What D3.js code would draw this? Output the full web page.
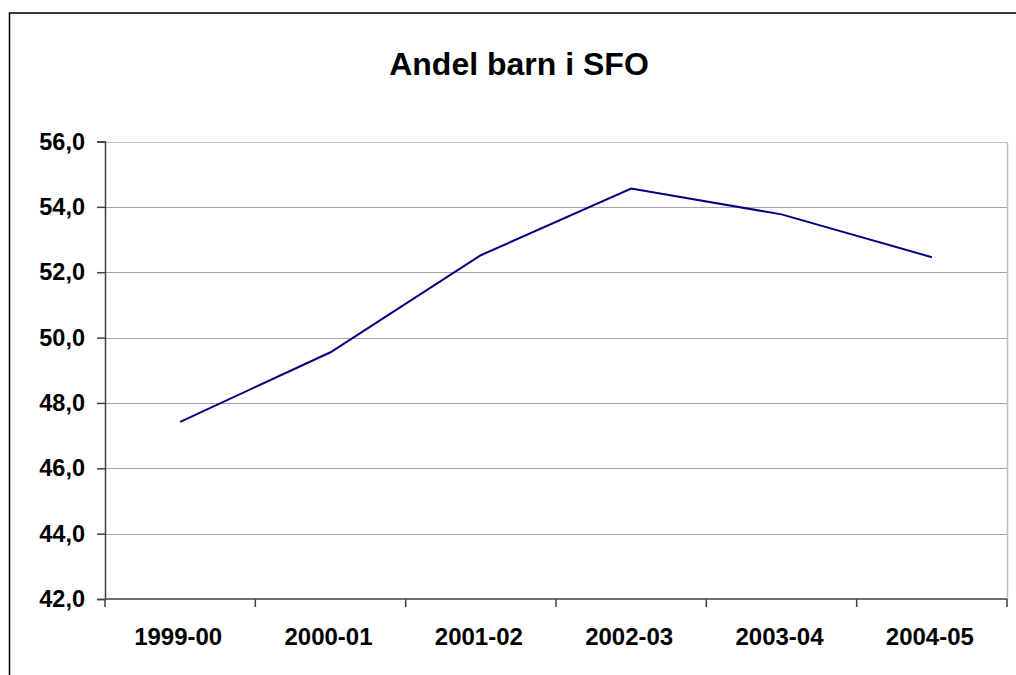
<!DOCTYPE html>
<html>
<head>
<meta charset="utf-8">
<script src="https://cdn.jsdelivr.net/npm/d3@7"></script>
<style>
  html, body { margin: 0; padding: 0; background: #fff; }
  svg { display: block; }
  text { font-family: "Liberation Sans", Arial, sans-serif; font-weight: bold; fill: #000; }
</style>
</head>
<body>
<svg id="chart" width="1016" height="675"></svg>
<script>
const title = "Andel barn i SFO";
const categories = ["1999-00", "2000-01", "2001-02", "2002-03", "2003-04", "2004-05"];
const values = [47.42, 49.55, 52.52, 54.56, 53.77, 52.46];
const yTicks = [42, 44, 46, 48, 50, 52, 54, 56];

(function () {
const svg = d3.select("#chart");
const pLeft = 105, pRight = 1007, pTop = 141.5, pBottom = 599;

// outer chart border
svg.append("rect").attr("x", 9.5).attr("y", 13).attr("width", 1040).attr("height", 700)
  .attr("fill", "#fff").attr("stroke", "#000").attr("stroke-width", 1.5);

const x = d3.scaleBand().domain(categories).range([pLeft, pRight]).paddingInner(0).paddingOuter(0);
const y = d3.scaleLinear().domain([42, 56]).range([pBottom, pTop]);

// gridlines
svg.append("g").selectAll("line").data(yTicks.filter(d => d > 42)).join("line")
  .attr("x1", pLeft).attr("x2", pRight)
  .attr("y1", d => Math.round(y(d)) + 0.5).attr("y2", d => Math.round(y(d)) + 0.5)
  .attr("stroke", d => d === 56 ? "#c0c0c0" : "#a6a6a6").attr("stroke-width", 1);

// right plot border
svg.append("line").attr("x1", pRight + 0.5).attr("x2", pRight + 0.5)
  .attr("y1", Math.round(pTop) + 0.5).attr("y2", pBottom)
  .attr("stroke", "#c0c0c0").attr("stroke-width", 1.5);

// y axis
const yAxis = d3.axisLeft(y).tickValues(yTicks).tickSize(8).tickPadding(12)
  .tickFormat(d => d3.format(".1f")(d).replace(".", ","));
const gy = svg.append("g").attr("transform", `translate(${pLeft},0)`).call(yAxis);
gy.select(".domain").attr("stroke", "#404040").attr("stroke-width", 1.5);
gy.selectAll(".tick line").attr("stroke", "#404040").attr("stroke-width", 1.5);
gy.selectAll("text").style("font-size", "23.5px").attr("font-family", "Liberation Sans, Arial, sans-serif")
  .attr("font-weight", "bold").attr("fill", "#000");

// x axis (ticks at category boundaries)
const boundaries = categories.map(c => x(c)).concat([pRight]);
const gx = svg.append("g");
gx.append("line").attr("x1", pLeft).attr("x2", pRight).attr("y1", pBottom).attr("y2", pBottom)
  .attr("stroke", "#404040").attr("stroke-width", 1.5);
gx.selectAll("line.tk").data(boundaries).join("line").attr("class", "tk")
  .attr("x1", d => d).attr("x2", d => d).attr("y1", pBottom).attr("y2", pBottom + 8)
  .attr("stroke", "#404040").attr("stroke-width", 1.5);
gx.selectAll("text").data(categories).join("text")
  .attr("x", d => x(d) + x.bandwidth() / 2 - 2).attr("y", 645)
  .attr("text-anchor", "middle").style("font-size", "24px").text(d => d);

// line
const line = d3.line().x((d, i) => x(categories[i]) + x.bandwidth() / 2).y(d => y(d));
svg.append("path").datum(values).attr("d", line)
  .attr("fill", "none").attr("stroke", "#000080").attr("stroke-width", 2)
  .attr("stroke-linejoin", "miter");

// title
svg.append("text").attr("x", 519).attr("y", 75).attr("text-anchor", "middle")
  .style("font-size", "32px").text(title);
})();
</script>
</body>
</html>
